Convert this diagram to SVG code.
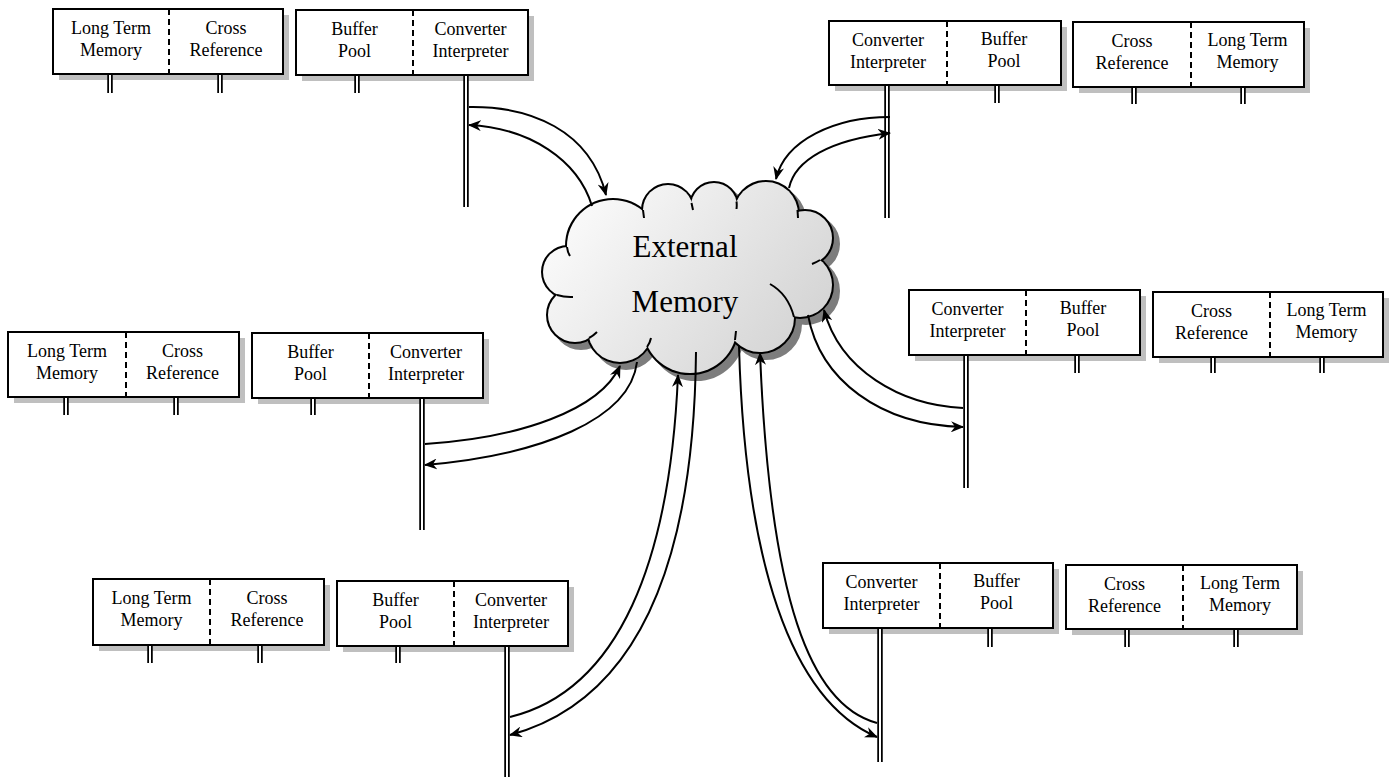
<svg xmlns="http://www.w3.org/2000/svg" width="1393" height="777" viewBox="0 0 1393 777">
  <defs>
    <style>
      .shadow { fill: #bfbfbf; }
      .box { fill: #ffffff; stroke: #000000; stroke-width: 2; }
      .divider { stroke: #000000; stroke-width: 2; stroke-dasharray: 6 4; fill: none; }
      .lbl { font-family: "Liberation Serif", "Times New Roman", serif; font-size: 18px; text-anchor: middle; fill: #000000; }
      .big { font-family: "Liberation Serif", "Times New Roman", serif; font-size: 31px; text-anchor: middle; fill: #000000; }
      .rail { fill: none; stroke: #000000; stroke-width: 5.5; }
      .rail-core { fill: none; stroke: #ffffff; stroke-width: 2; }
      .flow { fill: none; stroke: #000000; stroke-width: 2; }
      .flow.arr { marker-end: url(#head); }
      .hook { fill: none; stroke: #000000; stroke-width: 2; }
    </style>
    <marker id="head" viewBox="0 0 13 11" refX="12" refY="5.5" markerWidth="13" markerHeight="11" markerUnits="userSpaceOnUse" orient="auto">
      <path d="M0,0 L13,5.5 L0,11 L4,5.5 z" fill="#000000"/>
    </marker>
    <linearGradient id="cloudFill" gradientUnits="userSpaceOnUse" x1="590" y1="200" x2="800" y2="370">
      <stop offset="0" stop-color="#f9f9f9"/>
      <stop offset="1" stop-color="#d2d2d2"/>
    </linearGradient>
    <!-- bumps of the cloud; their union forms the outline -->
    <g id="bumps">
      <circle cx="568" cy="272" r="25"/>
      <circle cx="613" cy="246" r="46"/>
      <circle cx="668" cy="210" r="25"/>
      <circle cx="714" cy="206" r="23"/>
      <circle cx="766" cy="214" r="32"/>
      <circle cx="805" cy="238" r="27"/>
      <circle cx="800" cy="285" r="32"/>
      <circle cx="760" cy="318" r="34"/>
      <circle cx="690" cy="326" r="47"/>
      <circle cx="620" cy="330" r="32"/>
      <circle cx="575" cy="315" r="27"/>
      <ellipse cx="690" cy="272" rx="110" ry="62"/>
    </g>
  </defs>

  <rect width="1393" height="777" fill="#ffffff"/>

  <!-- central store -->
  <g id="external-memory">
    <use href="#bumps" transform="translate(6,6)" fill="#7d7d7d" stroke="#7d7d7d" stroke-width="4"/>
    <use href="#bumps" fill="#000000" stroke="#000000" stroke-width="4"/>
    <use href="#bumps" fill="url(#cloudFill)" stroke="none"/>
    <!-- arc ends that run on past each cusp -->
    <path class="hook" d="M567,247 Q567.5,252 570,256 M557,295 Q565,297.5 573,297 M589,338 Q593,336 597,332 M643,210 L644,218 M691.5,203 L693,210 M736.5,201.5 Q737,205 736.5,209 M797.5,210 L798,218 M820,260 Q816,262.5 812,264 M770,284 Q788,294 794,317 M735,340 L736,331 M647,347 Q650,343 651,338"/>
    <text class="big" x="685" y="257">External</text>
    <text class="big" x="685" y="312">Memory</text>
  </g>

  <!-- top-left pair -->
  <g id="node-a">
    <rect class="shadow" x="59" y="15" width="230" height="65"/>
    <rect class="box" x="53" y="9" width="230" height="65"/>
    <line class="divider" x1="169" y1="9" x2="169" y2="74"/>
    <text class="lbl" x="111" y="34">Long Term</text>
    <text class="lbl" x="111" y="56">Memory</text>
    <text class="lbl" x="226" y="34">Cross</text>
    <text class="lbl" x="226" y="56">Reference</text>
    <path class="rail" d="M110,75V93 M220,75V93"/>
    <path class="rail-core" d="M110,75V93 M220,75V93"/>
  </g>
  <g id="node-b">
    <rect class="shadow" x="302" y="16" width="232" height="65"/>
    <rect class="box" x="296" y="10" width="232" height="65"/>
    <line class="divider" x1="413" y1="10" x2="413" y2="75"/>
    <text class="lbl" x="354.5" y="35">Buffer</text>
    <text class="lbl" x="354.5" y="57">Pool</text>
    <text class="lbl" x="470.5" y="35">Converter</text>
    <text class="lbl" x="470.5" y="57">Interpreter</text>
    <path class="rail" d="M357,76V93 M466,76V207"/>
    <path class="rail-core" d="M357,76V93 M466,76V207"/>
  </g>

  <!-- top-right pair -->
  <g id="node-c">
    <rect class="shadow" x="835" y="27" width="232" height="64"/>
    <rect class="box" x="829" y="21" width="232" height="64"/>
    <line class="divider" x1="947" y1="21" x2="947" y2="85"/>
    <text class="lbl" x="888" y="46">Converter</text>
    <text class="lbl" x="888" y="68">Interpreter</text>
    <text class="lbl" x="1004" y="45">Buffer</text>
    <text class="lbl" x="1004" y="67">Pool</text>
    <path class="rail" d="M997,86V103 M887,86V218"/>
    <path class="rail-core" d="M997,86V103 M887,86V218"/>
  </g>
  <g id="node-d">
    <rect class="shadow" x="1079" y="28" width="231" height="65"/>
    <rect class="box" x="1073" y="22" width="231" height="65"/>
    <line class="divider" x1="1191" y1="22" x2="1191" y2="87"/>
    <text class="lbl" x="1132" y="47">Cross</text>
    <text class="lbl" x="1132" y="69">Reference</text>
    <text class="lbl" x="1247.5" y="46">Long Term</text>
    <text class="lbl" x="1247.5" y="68">Memory</text>
    <path class="rail" d="M1134,88V104 M1243,88V104"/>
    <path class="rail-core" d="M1134,88V104 M1243,88V104"/>
  </g>

  <!-- middle-left pair -->
  <g id="node-e">
    <rect class="shadow" x="14" y="338" width="231" height="65"/>
    <rect class="box" x="8" y="332" width="231" height="65"/>
    <line class="divider" x1="126" y1="332" x2="126" y2="397"/>
    <text class="lbl" x="67" y="357">Long Term</text>
    <text class="lbl" x="67" y="379">Memory</text>
    <text class="lbl" x="182.5" y="357">Cross</text>
    <text class="lbl" x="182.5" y="379">Reference</text>
    <path class="rail" d="M66,398V415 M176,398V415"/>
    <path class="rail-core" d="M66,398V415 M176,398V415"/>
  </g>
  <g id="node-f">
    <rect class="shadow" x="258" y="339" width="231" height="65"/>
    <rect class="box" x="252" y="333" width="231" height="65"/>
    <line class="divider" x1="369" y1="333" x2="369" y2="398"/>
    <text class="lbl" x="310.5" y="358">Buffer</text>
    <text class="lbl" x="310.5" y="380">Pool</text>
    <text class="lbl" x="426" y="358">Converter</text>
    <text class="lbl" x="426" y="380">Interpreter</text>
    <path class="rail" d="M313,399V415 M422,399V530"/>
    <path class="rail-core" d="M313,399V415 M422,399V530"/>
  </g>

  <!-- middle-right pair -->
  <g id="node-g">
    <rect class="shadow" x="915" y="296" width="231" height="65"/>
    <rect class="box" x="909" y="290" width="231" height="65"/>
    <line class="divider" x1="1026" y1="290" x2="1026" y2="355"/>
    <text class="lbl" x="967.5" y="315">Converter</text>
    <text class="lbl" x="967.5" y="337">Interpreter</text>
    <text class="lbl" x="1083" y="314">Buffer</text>
    <text class="lbl" x="1083" y="336">Pool</text>
    <path class="rail" d="M1077,356V373 M966,356V488"/>
    <path class="rail-core" d="M1077,356V373 M966,356V488"/>
  </g>
  <g id="node-h">
    <rect class="shadow" x="1159" y="298" width="230" height="65"/>
    <rect class="box" x="1153" y="292" width="230" height="65"/>
    <line class="divider" x1="1270" y1="292" x2="1270" y2="357"/>
    <text class="lbl" x="1211.5" y="317">Cross</text>
    <text class="lbl" x="1211.5" y="339">Reference</text>
    <text class="lbl" x="1326.5" y="316">Long Term</text>
    <text class="lbl" x="1326.5" y="338">Memory</text>
    <path class="rail" d="M1213,358V373 M1322,358V373"/>
    <path class="rail-core" d="M1213,358V373 M1322,358V373"/>
  </g>

  <!-- bottom-left pair -->
  <g id="node-i">
    <rect class="shadow" x="99" y="585" width="231" height="66"/>
    <rect class="box" x="93" y="579" width="231" height="66"/>
    <line class="divider" x1="210" y1="579" x2="210" y2="645"/>
    <text class="lbl" x="151.5" y="604">Long Term</text>
    <text class="lbl" x="151.5" y="626">Memory</text>
    <text class="lbl" x="267" y="604">Cross</text>
    <text class="lbl" x="267" y="626">Reference</text>
    <path class="rail" d="M150,646V663 M260,646V663"/>
    <path class="rail-core" d="M150,646V663 M260,646V663"/>
  </g>
  <g id="node-j">
    <rect class="shadow" x="343" y="587" width="231" height="65"/>
    <rect class="box" x="337" y="581" width="231" height="65"/>
    <line class="divider" x1="454" y1="581" x2="454" y2="646"/>
    <text class="lbl" x="395.5" y="606">Buffer</text>
    <text class="lbl" x="395.5" y="628">Pool</text>
    <text class="lbl" x="511" y="606">Converter</text>
    <text class="lbl" x="511" y="628">Interpreter</text>
    <path class="rail" d="M398,647V663 M507,647V777"/>
    <path class="rail-core" d="M398,647V663 M507,647V777"/>
  </g>

  <!-- bottom-right pair -->
  <g id="node-k">
    <rect class="shadow" x="829" y="569" width="230" height="65"/>
    <rect class="box" x="823" y="563" width="230" height="65"/>
    <line class="divider" x1="940" y1="563" x2="940" y2="628"/>
    <text class="lbl" x="881.5" y="588">Converter</text>
    <text class="lbl" x="881.5" y="610">Interpreter</text>
    <text class="lbl" x="996.5" y="587">Buffer</text>
    <text class="lbl" x="996.5" y="609">Pool</text>
    <path class="rail" d="M990,629V647 M880,629V762"/>
    <path class="rail-core" d="M990,629V647 M880,629V762"/>
  </g>
  <g id="node-l">
    <rect class="shadow" x="1072" y="571" width="231" height="64"/>
    <rect class="box" x="1066" y="565" width="231" height="64"/>
    <line class="divider" x1="1183" y1="565" x2="1183" y2="629"/>
    <text class="lbl" x="1124.5" y="590">Cross</text>
    <text class="lbl" x="1124.5" y="612">Reference</text>
    <text class="lbl" x="1240" y="589">Long Term</text>
    <text class="lbl" x="1240" y="611">Memory</text>
    <path class="rail" d="M1127,630V647 M1236,630V647"/>
    <path class="rail-core" d="M1127,630V647 M1236,630V647"/>
  </g>

  <!-- data flows between the converters and the store -->
  <g id="connectors">
    <path class="flow arr" d="M469,107 C530,106 590,130 606,195"/>
    <path class="flow arr" d="M592,206 C578,160 530,128 469,125"/>
    <path class="flow arr" d="M890,117 C835,117 785,140 776,179"/>
    <path class="flow arr" d="M789,188 C795,160 830,140 890,133"/>
    <path class="flow arr" d="M425,444 C520,438 600,410 620,366"/>
    <path class="flow arr" d="M637,362 C630,420 540,455 425,465"/>
    <path class="flow arr" d="M963,408 C900,405 840,370 824,310"/>
    <path class="flow arr" d="M808,315 C820,380 880,425 963,427"/>
    <path class="flow arr" d="M510,717 C620,690 670,560 678,375"/>
    <path class="flow arr" d="M696,352 C694,560 640,700 510,735"/>
    <path class="flow arr" d="M739,346 C745,560 790,700 877,737"/>
    <path class="flow arr" d="M877,723 C810,705 770,600 760,353"/>
  </g>
</svg>
